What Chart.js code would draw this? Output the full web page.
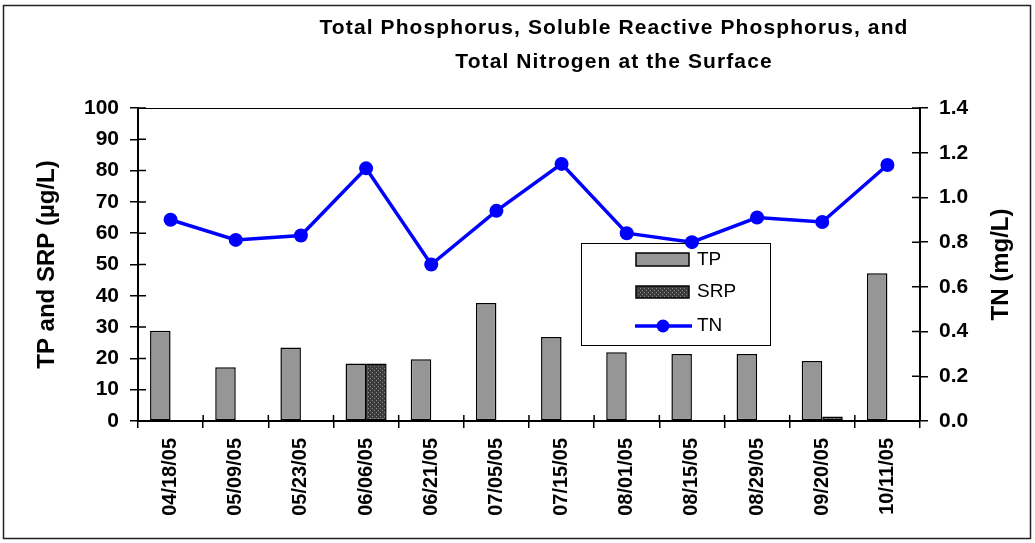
<!DOCTYPE html>
<html>
<head>
<meta charset="utf-8">
<script src="https://cdn.jsdelivr.net/npm/chart.js@4/dist/chart.umd.min.js"></script>
<style>
  body { margin: 0; background: #fff; }
</style>
</head>
<body>
<canvas id="nutrients" width="1035" height="543"></canvas>
<script>
// ** surface nutrients chart **
var dates = ['04/18/05','05/09/05','05/23/05','06/06/05','06/21/05','07/05/05',
             '07/15/05','08/01/05','08/15/05','08/29/05','09/20/05','10/11/05'];
var tpValues  = [28.8, 17.2, 23.5, 18.4, 19.7, 37.7, 26.8, 22.0, 21.4, 21.4, 19.2, 47.2];
var srpValues = [null, null, null, 18.4, null, null, null, null, null, null, 1.4, null];
var tnValues  = [0.90, 0.81, 0.83, 1.13, 0.70, 0.94, 1.15, 0.84, 0.80, 0.91, 0.89, 1.145];
var titleLines = ['Total Phosphorus, Soluble Reactive Phosphorus, and', 'Total Nitrogen at the Surface'];

var FONT = '"Liberation Sans", Arial, sans-serif';

// dotted fill for SRP bars
function dotPattern() {
    var c = document.createElement('canvas');
    c.width = 4; c.height = 4;
    var g = c.getContext('2d');
    g.fillStyle = '#3c3c3c';
    g.fillRect(0, 0, 4, 4);
    g.fillStyle = '#8a8a8a';
    g.fillRect(0, 0, 1, 1);
    g.fillRect(2, 2, 1, 1);
    return g.createPattern(c, 'repeat');
}
var srpFill = dotPattern();

var frame = {
    id: 'frame',
    beforeDraw: function(chart) {
        var ctx = chart.ctx;
        ctx.save();
        ctx.fillStyle = '#fff';
        ctx.fillRect(0, 0, chart.width, chart.height);
        ctx.strokeStyle = '#222';
        ctx.lineWidth = 1.5;
        ctx.strokeRect(3.5, 5.5, 1027, 533);
        ctx.restore();
    },
    afterDraw: function(chart) {
        var ctx = chart.ctx, a = chart.chartArea;
        ctx.save();
        // plot box top
        ctx.strokeStyle = '#000';
        ctx.lineWidth = 1;
        ctx.beginPath();
        ctx.moveTo(a.left, a.top + 0.5);
        ctx.lineTo(a.right, a.top + 0.5);
        ctx.stroke();
        // inner halves of tick marks
        ctx.lineWidth = 1.5;
        var y = chart.scales.y, y1 = chart.scales.y1, x = chart.scales.x;
        ctx.beginPath();
        y.ticks.forEach(function(t) {
            var p = y.getPixelForValue(t.value);
            ctx.moveTo(a.left, p); ctx.lineTo(a.left + 8, p);
        });
        y1.ticks.forEach(function(t) {
            var p = y1.getPixelForValue(t.value);
            ctx.moveTo(a.right - 8, p); ctx.lineTo(a.right, p);
        });
        var half = (x.getPixelForValue(1) - x.getPixelForValue(0)) / 2;
        for (var i = 0; i <= dates.length; i++) {
            var px = x.getPixelForValue(i) - half;
            ctx.moveTo(px, a.bottom - 6); ctx.lineTo(px, a.bottom);
        }
        ctx.stroke();
        // title
        ctx.fillStyle = '#000';
        ctx.font = 'bold 21px ' + FONT;
        ctx.textAlign = 'center';
        ctx.textBaseline = 'middle';
        ctx.letterSpacing = '1.1px';
        ctx.fillText(titleLines[0], 614, 28);
        ctx.fillText(titleLines[1], 614, 62);
        ctx.letterSpacing = '0px';
        // right axis title, reads bottom to top
        ctx.font = 'bold 24px ' + FONT;
        ctx.translate(1001, (a.top + a.bottom) / 2);
        ctx.rotate(-Math.PI / 2);
        ctx.fillText('TN (mg/L)', 0, 0);
        ctx.restore();
    }
};

// boxed legend inside the plot
var boxLegend = {
    id: 'boxLegend',
    beforeDatasetsDraw: function(chart) {
        var ctx = chart.ctx;
        var ds = chart.data.datasets;
        ctx.save();
        ctx.fillStyle = '#fff';
        ctx.fillRect(581, 243, 189, 102);
        ctx.strokeStyle = '#000';
        ctx.lineWidth = 1;
        ctx.strokeRect(581.5, 243.5, 189, 102);
        ctx.font = '19px ' + FONT;
        ctx.textBaseline = 'middle';
        ctx.textAlign = 'left';
        // TP
        ctx.fillStyle = ds[0].backgroundColor;
        ctx.fillRect(636, 253, 53, 13);
        ctx.lineWidth = 1.5;
        ctx.strokeRect(636, 253, 53, 13);
        ctx.fillStyle = '#000';
        ctx.fillText(ds[0].label, 697, 260);
        // SRP
        ctx.fillStyle = ds[1].backgroundColor;
        ctx.fillRect(636, 286, 53, 12);
        ctx.strokeRect(636, 286, 53, 12);
        ctx.fillStyle = '#000';
        ctx.fillText(ds[1].label, 697, 292);
        // TN
        ctx.strokeStyle = ds[2].borderColor;
        ctx.lineWidth = 3.5;
        ctx.beginPath();
        ctx.moveTo(635, 326); ctx.lineTo(692, 326);
        ctx.stroke();
        ctx.fillStyle = ds[2].borderColor;
        ctx.beginPath();
        ctx.arc(663, 326, 6.5, 0, Math.PI * 2);
        ctx.fill();
        ctx.fillStyle = '#000';
        ctx.fillText(ds[2].label, 697, 326);
        ctx.restore();
    }
};

var ctx1 = document.getElementById('nutrients');
var chart = new Chart(ctx1, {
    type: 'bar',
    data: {
        labels: dates,
        datasets: [{
            label: 'TP',
            data: tpValues,
            backgroundColor: '#969696',
            borderColor: '#000',
            borderWidth: 1.5,
            borderSkipped: false,
            yAxisID: 'y',
            order: 1
        }, {
            label: 'SRP',
            data: srpValues,
            backgroundColor: srpFill,
            borderColor: '#000',
            borderWidth: 1.5,
            borderSkipped: false,
            yAxisID: 'y',
            order: 2
        }, {
            type: 'line',
            label: 'TN',
            data: tnValues,
            borderColor: '#0000ff',
            backgroundColor: '#0000ff',
            borderWidth: 3.5,
            pointRadius: 7,
            pointBorderWidth: 0,
            pointBackgroundColor: '#0000ff',
            tension: 0,
            yAxisID: 'y1',
            order: 0
        }]
    },
    options: {
        responsive: false,
        animation: false,
        categoryPercentage: 0.63,
        barPercentage: 1,
        layout: { padding: { top: 108, left: 0, right: 0, bottom: 0 } },
        plugins: {
            legend: { display: false },
            tooltip: { enabled: false }
        },
        scales: {
            x: {
                afterFit: function(s) { s.height = 122; },
                grid: { display: true, drawOnChartArea: false, offset: true, color: '#000', lineWidth: 1.5, tickLength: 7 },
                border: { display: true, color: '#000', width: 2 },
                ticks: {
                    color: '#000',
                    font: { family: FONT, size: 20, weight: 'bold' },
                    minRotation: 90, maxRotation: 90,
                    padding: 10,
                    autoSkip: false
                }
            },
            y: {
                position: 'left',
                min: 0, max: 100,
                afterFit: function(s) { s.width = 138; },
                grid: { display: true, drawOnChartArea: false, color: '#000', lineWidth: 1.5, tickLength: 8 },
                border: { display: true, color: '#000', width: 2 },
                ticks: {
                    stepSize: 10,
                    color: '#000',
                    font: { family: FONT, size: 21, weight: 'bold' },
                    padding: 11
                },
                title: {
                    display: true,
                    text: 'TP and SRP (\u00b5g/L)',
                    color: '#000',
                    font: { family: FONT, size: 24, weight: 'bold' },
                    padding: { top: 33, bottom: 0 }
                }
            },
            y1: {
                position: 'right',
                min: 0, max: 1.4,
                afterFit: function(s) { s.width = 115; },
                grid: { display: true, drawOnChartArea: false, color: '#000', lineWidth: 1.5, tickLength: 8 },
                border: { display: true, color: '#000', width: 2 },
                ticks: {
                    stepSize: 0.2,
                    color: '#000',
                    font: { family: FONT, size: 21, weight: 'bold' },
                    padding: 11,
                    callback: function(v) { return Number(v).toFixed(1); }
                }
            }
        }
    },
    plugins: [frame, boxLegend]
});
</script>
</body>
</html>
